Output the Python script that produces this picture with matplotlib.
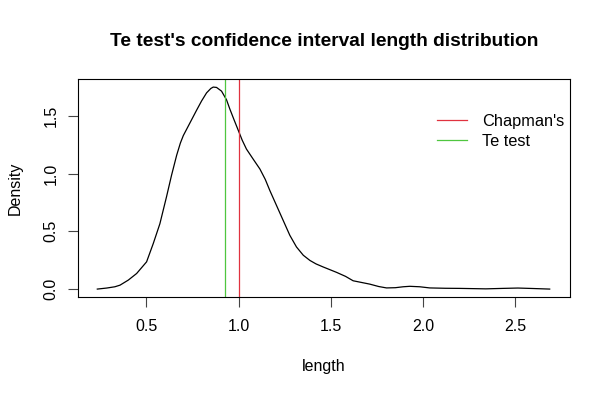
import matplotlib.pyplot as plt
import numpy as np

plt.rcParams['font.family'] = ['Liberation Sans', 'DejaVu Sans']

# Data - density curve
length = np.array([0.235, 0.286, 0.330, 0.358, 0.403, 0.448, 0.502, 0.538, 0.574,
                   0.610, 0.637, 0.665, 0.685, 0.701, 0.737, 0.773, 0.800, 0.827,
                   0.850, 0.863, 0.881, 0.908, 0.935, 0.953, 0.975, 1.000, 1.020,
                   1.043, 1.079, 1.116, 1.145, 1.170, 1.206, 1.242, 1.278, 1.314,
                   1.351, 1.387, 1.420, 1.458, 1.500, 1.531, 1.580, 1.621, 1.711,
                   1.760, 1.802, 1.850, 1.892, 1.928, 1.982, 2.036, 2.120, 2.198,
                   2.340, 2.433, 2.514, 2.595, 2.686])
density = np.array([0.000, 0.009, 0.020, 0.034, 0.078, 0.135, 0.236, 0.394, 0.566,
                    0.800, 0.985, 1.160, 1.265, 1.330, 1.440, 1.550, 1.630, 1.700,
                    1.738, 1.750, 1.747, 1.715, 1.640, 1.560, 1.470, 1.370, 1.290,
                    1.213, 1.127, 1.040, 0.950, 0.853, 0.724, 0.595, 0.466, 0.365,
                    0.293, 0.248, 0.218, 0.192, 0.165, 0.145, 0.110, 0.072, 0.043,
                    0.022, 0.010, 0.012, 0.020, 0.024, 0.020, 0.010, 0.007, 0.006,
                    0.002, 0.006, 0.009, 0.005, 0.000])
chapman = 1.0
te_test = 0.928

red = '#E0323F'
green = '#4FC63F'

fig = plt.figure(figsize=(6.1, 3.95), dpi=100)
ax = fig.add_axes([78.3 / 610, 1 - 296.7 / 395, (570 - 78.3) / 610, (296.7 - 79) / 395])

ax.plot(length, density, color='black', lw=0.9)
ax.axvline(chapman, color=red, lw=0.9)
ax.axvline(te_test, color=green, lw=0.9)

ax.set_xlim(0.132, 2.796)
ax.set_ylim(-0.066, 1.82)
ax.set_xticks([0.5, 1.0, 1.5, 2.0, 2.5])
ax.set_yticks([0.0, 0.5, 1.0, 1.5])
ax.set_yticklabels(['0.0', '0.5', '1.0', '1.5'], rotation=90, va='center')
ax.tick_params(labelsize=11.5, length=7, width=0.8, color='#444444')
ax.tick_params(axis='x', pad=9)
ax.tick_params(axis='y', pad=7)
for s in ax.spines.values():
    s.set_linewidth(0.8)

fig.text(324 / 610, 1 - 41 / 395, "Te test's confidence interval length distribution",
         ha='center', va='center', fontsize=13.8, fontweight='bold')
fig.text(324 / 610, 1 - 366 / 395, 'length', ha='center', va='center', fontsize=11.5)
fig.text(15 / 610, 1 - 188 / 395, 'Density', ha='center', va='center',
         rotation=90, fontsize=11.5)

# legend without box, placed by hand
h1, = ax.plot([], [], color=red, lw=0.9)
h2, = ax.plot([], [], color=green, lw=0.9)
ax.legend([h1, h2], ["Chapman's", 'Te test'], frameon=False, fontsize=11.8,
          loc='upper left', bbox_to_anchor=((436.7 - 78.3) / 491.7, 1 - (114 - 79) / 217.7),
          handlelength=1.83, handletextpad=0.93, labelspacing=0.3, borderpad=0,
          borderaxespad=0)

plt.savefig('out.png')
